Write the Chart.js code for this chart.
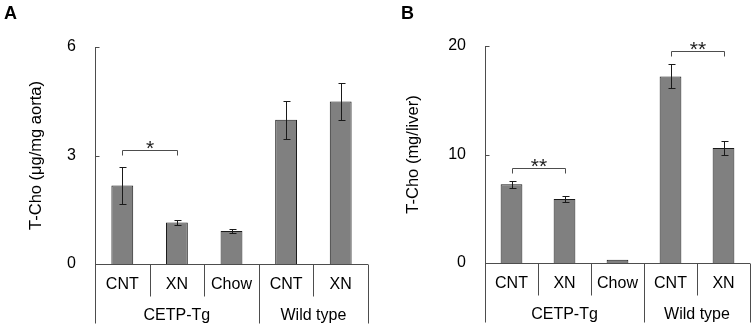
<!DOCTYPE html>
<html><head><meta charset="utf-8">
<script src="https://cdn.jsdelivr.net/npm/chart.js@4.4.0/dist/chart.umd.min.js"></script>
<style>html,body{margin:0;padding:0;background:#fff;}#wrap{position:relative;width:754px;height:328px;background:#fff;}canvas{position:absolute;top:0;}</style>
</head><body><div id="wrap"><canvas id="a" width="377" height="328" style="left:0"></canvas><canvas id="b" width="377" height="328" style="left:377px"></canvas></div>
<script>
const categories = ['CNT', 'XN', 'Chow', 'CNT', 'XN'];
const groupLabels = ['CETP-Tg', 'Wild type'];
const groupSizes = [3, 2];

const aortaValues = [2.17, 1.15, 0.91, 3.99, 4.49];
const aortaErrors = [0.52, 0.07, 0.06, 0.52, 0.52];
const aortaTicks = [0, 3, 6];
const aortaBrackets = [[0, 1, 3.16, '*']];

const liverValues = [7.25, 5.9, 0.3, 17.2, 10.6];
const liverErrors = [0.35, 0.32, 0, 1.1, 0.65];
const liverTicks = [0, 10, 20];
const liverBrackets = [[0, 1, 8.78, '**'], [3, 4, 19.54, '**']];

const FONT = "Arial, 'Liberation Sans', sans-serif";
const LINE = '#4d4d4d';

function panelPlugin(errors, brackets, letter, letterX) {
  return {
    id: 'panelExtras',
    afterDatasetsDraw(chart) {
      const ctx = chart.ctx, ys = chart.scales.y, meta = chart.getDatasetMeta(0);
      const vals = chart.data.datasets[0].data;
      ctx.save();
      ctx.strokeStyle = '#1a1a1a';
      ctx.lineWidth = 1;
      meta.data.forEach((bar, i) => {
        const e = errors[i];
        if (!e) return;
        const x = Math.round(bar.x) + 0.5;
        const yt = Math.round(ys.getPixelForValue(vals[i] + e)) + 0.5;
        const yb = Math.round(ys.getPixelForValue(vals[i] - e)) + 0.5;
        ctx.beginPath();
        ctx.moveTo(x, yt); ctx.lineTo(x, yb);
        ctx.moveTo(x - 3, yt); ctx.lineTo(x + 4, yt);
        ctx.moveTo(x - 3, yb); ctx.lineTo(x + 4, yb);
        ctx.stroke();
      });
      ctx.restore();
    },
    afterDraw(chart) {
      const ctx = chart.ctx, ys = chart.scales.y, xs = chart.scales.x;
      const area = chart.chartArea, meta = chart.getDatasetMeta(0);
      const n = categories.length;
      ctx.save();
      ctx.strokeStyle = LINE;
      ctx.lineWidth = 1;
      const ax = Math.round(area.left) + 0.5;
      ys.ticks.forEach(t => {
        const y = Math.round(ys.getPixelForValue(t.value)) + 0.5;
        ctx.beginPath(); ctx.moveTo(ax, y); ctx.lineTo(ax + 4, y); ctx.stroke();
      });
      const y0 = Math.round(ys.getPixelForValue(0)) + 0.5;
      ctx.beginPath(); ctx.moveTo(area.left, y0); ctx.lineTo(area.right, y0); ctx.stroke();
      const w = (area.right - area.left) / n;
      const bounds = [0];
      groupSizes.reduce((acc, s) => { bounds.push(acc + s); return acc + s; }, 0);
      for (let k = 0; k <= n; k++) {
        const x = Math.round(area.left + k * w) + 0.5;
        const long = bounds.includes(k);
        ctx.beginPath(); ctx.moveTo(x, y0); ctx.lineTo(x, y0 + (long ? 59 : 32)); ctx.stroke();
      }
      ctx.fillStyle = '#000';
      ctx.font = '16px ' + FONT;
      ctx.textAlign = 'center';
      ctx.textBaseline = 'middle';
      categories.forEach((c, i) => ctx.fillText(c, xs.getPixelForValue(i), y0 + 20));
      groupLabels.forEach((g, gi) => {
        const xa = area.left + bounds[gi] * w, xb = area.left + bounds[gi + 1] * w;
        ctx.fillText(g, (xa + xb) / 2, y0 + 51);
      });
      brackets.forEach(([a, b, v, lab]) => {
        const x1 = Math.round(meta.data[a].x) + 0.5, x2 = Math.round(meta.data[b].x) + 0.5;
        const yb = Math.round(ys.getPixelForValue(v)) + 0.5;
        ctx.strokeStyle = LINE;
        ctx.beginPath();
        ctx.moveTo(x1, yb + 5); ctx.lineTo(x1, yb); ctx.lineTo(x2, yb); ctx.lineTo(x2, yb + 5);
        ctx.stroke();
        ctx.fillStyle = '#222';
        ctx.font = '21px ' + FONT;
        ctx.textBaseline = 'alphabetic';
        ctx.fillText(lab, (x1 + x2) / 2, yb + 4);
      });
      ctx.fillStyle = '#000';
      ctx.font = 'bold 18px ' + FONT;
      ctx.textAlign = 'left';
      ctx.textBaseline = 'alphabetic';
      ctx.fillText(letter, letterX, 19);
      ctx.restore();
    }
  };
}

function makeChart(id, values, errors, ticks, brackets, title, letter, letterX, axisWidth, pad, barPct) {
  return new Chart(document.getElementById(id), {
    type: 'bar',
    data: {
      labels: categories,
      datasets: [{
        data: values,
        backgroundColor: '#808080',
        borderColor: '#1a1a1a',
        borderWidth: 1,
        categoryPercentage: 1,
        barPercentage: barPct
      }]
    },
    options: {
      responsive: false,
      animation: false,
      devicePixelRatio: 1,
      layout: { padding: pad },
      plugins: { legend: { display: false }, tooltip: { enabled: false } },
      scales: {
        x: { display: false, offset: true },
        y: {
          min: ticks[0],
          max: ticks[ticks.length - 1],
          afterBuildTicks: (s) => { s.ticks = ticks.map(v => ({ value: v })); },
          afterFit: (s) => { s.width = axisWidth; },
          grid: { display: false, drawTicks: false },
          border: { display: true, color: LINE, width: 1 },
          ticks: { padding: 19, color: '#000', font: { family: FONT, size: 16 } },
          title: {
            display: true,
            text: title,
            color: '#000',
            font: { family: FONT, size: 16.5 },
            padding: { top: 27, bottom: 0 }
          }
        }
      }
    },
    plugins: [panelPlugin(errors, brackets, letter, letterX)]
  });
}

makeChart('a', aortaValues, aortaErrors, aortaTicks, aortaBrackets, 'T-Cho (μg/mg aorta)', 'A', 4, 95,
  { left: 0, right: 9, top: 47, bottom: 64 }, 0.4);
makeChart('b', liverValues, liverErrors, liverTicks, liverBrackets, 'T-Cho (mg/liver)', 'B', 24, 108,
  { left: 0, right: 4, top: 46, bottom: 65 }, 0.41);
</script>
</body></html>
